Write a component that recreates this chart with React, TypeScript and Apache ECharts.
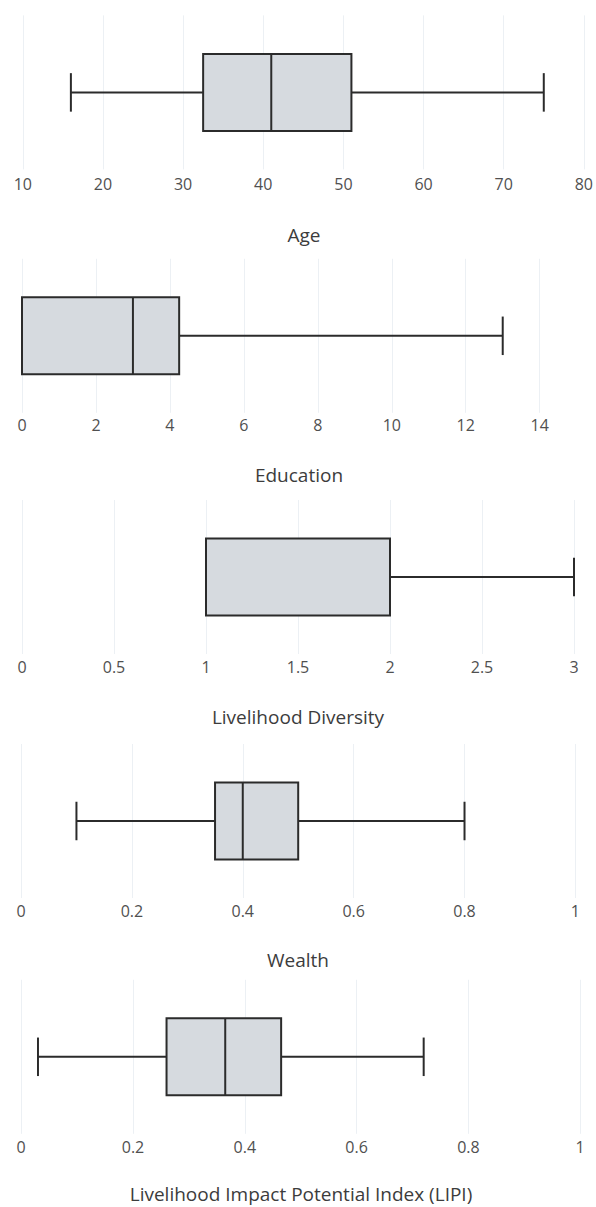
import React, { useEffect, useRef } from "react";
import * as echarts from "echarts";

// Panel titles (x-axis names)
const titles = [
  "Age",
  "Education",
  "Livelihood Diversity",
  "Wealth",
  "Livelihood Impact Potential Index (LIPI)",
];

// Box statistics: [lower whisker, Q1, median, Q3, upper whisker]
const ageStats = [16, 32.5, 41, 51, 75];
const educationStats = [0, 0, 3, 4.25, 13];
const diversityStats = [1, 1, 1, 2, 3];
const wealthStats = [0.1, 0.35, 0.4, 0.5, 0.8];
const lipiStats = [0.03, 0.26, 0.365, 0.465, 0.72];

const allStats = [ageStats, educationStats, diversityStats, wealthStats, lipiStats];

// Axis scales
const axisMin = [10, 0, 0, 0, 0];
const axisMax = [80, 14, 3, 1, 1];
const axisStep = [10, 2, 0.5, 0.2, 0.2];

// Layout (pixels)
const gridLeft = [22.8, 22, 22, 21, 21.2];
const gridWidth = [564.2, 517.7, 552, 554.4, 559];
const gridTop = [15.4, 258.8, 500, 744, 979.8];
const gridHeight = 154;
const labelMargin = [6.5, 4.5, 5, 5, 5];
const titleX = [304, 299, 298, 298, 301];
const titleY = [235, 475, 717, 960, 1194];

const BOX_FILL = "#d6dadf";
const LINE = "#2b2b2b";
const GRID = "#ecf0f4";
const TICK_TEXT = "#505050";
const TITLE_TEXT = "#3c3c3c";
const FONT = "'Open Sans', 'Noto Sans', sans-serif";

function renderBox(params: any, api: any) {
  const cat = api.value(0);
  const low = api.coord([api.value(1), cat]);
  const q1 = api.coord([api.value(2), cat]);
  const med = api.coord([api.value(3), cat]);
  const q3 = api.coord([api.value(4), cat]);
  const high = api.coord([api.value(5), cat]);
  const band = api.size([0, 1])[1];
  const boxH = band * 0.5;
  const capH = band * 0.25;
  const cy = q1[1];
  const lineStyle = { stroke: LINE, lineWidth: 2, fill: null };
  return {
    type: "group",
    children: [
      {
        type: "line",
        shape: { x1: low[0], y1: cy, x2: q1[0], y2: cy },
        style: lineStyle,
      },
      {
        type: "line",
        shape: { x1: q3[0], y1: cy, x2: high[0], y2: cy },
        style: lineStyle,
      },
      {
        type: "line",
        shape: { x1: low[0], y1: cy - capH / 2, x2: low[0], y2: cy + capH / 2 },
        style: lineStyle,
      },
      {
        type: "line",
        shape: { x1: high[0], y1: cy - capH / 2, x2: high[0], y2: cy + capH / 2 },
        style: lineStyle,
      },
      {
        type: "rect",
        shape: { x: q1[0], y: cy - boxH / 2, width: q3[0] - q1[0], height: boxH },
        style: { fill: BOX_FILL, stroke: LINE, lineWidth: 2 },
      },
      {
        type: "line",
        shape: { x1: med[0], y1: cy - boxH / 2, x2: med[0], y2: cy + boxH / 2 },
        style: lineStyle,
      },
    ],
  };
}

export default function App() {
  const ref = useRef<HTMLDivElement>(null);

  useEffect(() => {
    document.body.style.margin = "0";
    if (!ref.current) return;
    const chart = echarts.init(ref.current, undefined, { renderer: "svg" });

    const grid = allStats.map((_, i) => ({
      left: gridLeft[i],
      top: gridTop[i],
      width: gridWidth[i],
      height: gridHeight,
      containLabel: false,
    }));

    const xAxis = allStats.map((_, i) => ({
      type: "value",
      gridIndex: i,
      min: axisMin[i],
      max: axisMax[i],
      interval: axisStep[i],
      axisLine: { show: false },
      axisTick: { show: false },
      splitLine: { show: true, lineStyle: { color: GRID, width: 1 } },
      axisLabel: {
        margin: labelMargin[i],
        color: TICK_TEXT,
        fontSize: 16,
        fontFamily: FONT,
      },
    }));

    const yAxis = allStats.map((_, i) => ({
      type: "category",
      gridIndex: i,
      data: [""],
      show: false,
    }));

    const series = allStats.map((stats, i) => ({
      type: "custom",
      xAxisIndex: i,
      yAxisIndex: i,
      encode: { x: [1, 2, 3, 4, 5], y: 0 },
      data: [[0, ...stats]],
      renderItem: renderBox,
      clip: false,
    }));

    const graphic = titles.map((t, i) => ({
      type: "text",
      x: titleX[i],
      y: titleY[i],
      style: {
        text: t,
        fill: TITLE_TEXT,
        fontSize: 19,
        fontFamily: FONT,
        textAlign: "center",
        textVerticalAlign: "middle",
      },
    }));

    chart.setOption({
      animation: false,
      backgroundColor: "#ffffff",
      grid,
      xAxis,
      yAxis,
      series,
      graphic,
    } as any);

    return () => chart.dispose();
  }, []);

  return <div ref={ref} style={{ width: 596, height: 1207 }} />;
}
